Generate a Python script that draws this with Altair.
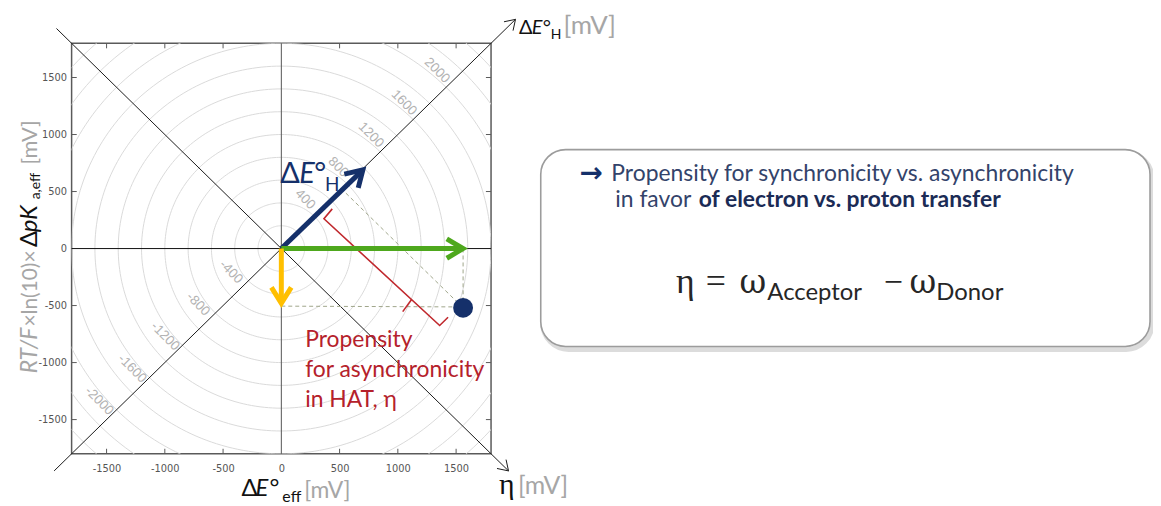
import altair as alt
import pandas as pd
import numpy as np

# ---------------- data ----------------
axis_ticks = [-1500, -1000, -500, 0, 500, 1000, 1500]
ring_radii = [200, 400, 600, 800, 1000, 1200, 1400, 1600, 1800, 2000, 2200, 2400, 2600]
ring_labels = [400, 800, 1200, 1600, 2000]
dE_H_tip = [700, 690]          # navy arrow  (ΔE°_H)
dE_eff_tip = [1560, 0]         # green arrow (ΔE°_eff)
dpKa_tip = [0, -480]           # yellow arrow (ΔpKa)
state_x = [1560]
state_y = [-520]
bracket_x = [437, 366, 1359, 1431]
bracket_y = [348, 261, -675, -603]
cusp_x = [1118, 1042]
cusp_y = [-447, -553]

# ---------------- styling ----------------
SANS = "Lato, Open Sans, sans-serif"
SERIF = "Liberation Serif, DejaVu Serif, serif"
NARROW = "Liberation Sans Narrow, Arial Narrow, DejaVu Sans Condensed, sans-serif"
NAVY = "#15306a"
GREEN = "#4ea81d"
YELLOW = "#ffbf00"
RED = "#c0282d"
REDTXT = "#b5212b"
GRAYTXT = "#a6a6a6"
OX, OY = 72, 42
W, H = 422, 413
D = 1800

SX = alt.Scale(domain=[-D, D], nice=False, zero=False)
SY = alt.Scale(domain=[-D, D], nice=False, zero=False)
AX = alt.Axis(values=axis_ticks, ticks=False, domain=False, grid=False, labelExpr="'' + datum.value",
              labelFont=NARROW, labelFontSize=11, labelColor="#555555", labelPadding=9,
              labelOverlap=False, labelFlush=False)
AY = alt.Axis(values=axis_ticks, ticks=False, domain=False, grid=False, labelExpr="'' + datum.value",
              labelFont=NARROW, labelFontSize=11, labelColor="#555555", labelPadding=5,
              labelOverlap=False, labelFlush=False)


def X(f="x"):
    return alt.X(f, type="quantitative", scale=SX, axis=AX, title=None)


def Y(f="y"):
    return alt.Y(f, type="quantitative", scale=SY, axis=AY, title=None)


# ---------------- grid circles ----------------
th = np.linspace(0, 2 * np.pi, 241)
circ = pd.DataFrame([
    {"x": r * np.cos(t), "y": r * np.sin(t), "r": r, "o": i}
    for r in ring_radii for i, t in enumerate(th)
])
circles = alt.Chart(circ).mark_line(clip=True, color="#dadada", strokeWidth=1).encode(
    x=X(), y=Y(), detail="r:N", order="o:Q")

# ring labels along the diagonal
s2 = np.sqrt(2)
lab_rows = []
for v in ring_labels:
    p = (v + 50) / s2
    lab_rows.append({"x": p - 160 / s2, "y": p + 160 / s2, "t": str(v)})
    lab_rows.append({"x": -p - 160 / s2, "y": -p + 160 / s2, "t": "-" + str(v)})
ring_text = alt.Chart(pd.DataFrame(lab_rows)).mark_text(
    angle=45, font="Liberation Sans, Arial, sans-serif", fontSize=13.5, color="#b3b3b3",
    align="center", baseline="middle"
).encode(x=X(), y=Y(), text="t:N")

# ---------------- frame ticks (inward) ----------------
tl = 44
trows = []
for v in axis_ticks:
    if v == 0:
        continue
    trows += [
        {"x": v, "x2": v, "y": -D, "y2": -D + tl},
        {"x": v, "x2": v, "y": D, "y2": D - tl},
        {"x": -D, "x2": -D + tl, "y": v, "y2": v},
        {"x": D, "x2": D - tl, "y": v, "y2": v},
    ]
ticks_layer = alt.Chart(pd.DataFrame(trows)).mark_rule(color="#5a5a5a", strokeWidth=1).encode(
    x=X(), x2="x2:Q", y=Y(), y2="y2:Q")

# ---------------- axes through origin and diagonals ----------------
axes_df = pd.DataFrame([
    {"x": -D, "x2": D, "y": 0, "y2": 0, "c": "#111111"},
    {"x": 0, "x2": 0, "y": -D, "y2": D, "c": "#555555"},
    {"x": -1950, "x2": 2010, "y": -1950, "y2": 2010, "c": "#1a1a1a"},
    {"x": -1930, "x2": 1950, "y": 1930, "y2": -1950, "c": "#1a1a1a"},
])
axes_layer = alt.Chart(axes_df).mark_rule(strokeWidth=1, clip=False).encode(
    x=X(), x2="x2:Q", y=Y(), y2="y2:Q", color=alt.Color("c:N", scale=None))


def head(tip, direction, L, Wd):
    u = np.array(direction, float)
    u = u / np.linalg.norm(u)
    p = np.array([-u[1], u[0]])
    tip = np.array(tip, float)
    a = tip - L * u + Wd * p
    b = tip - L * u - Wd * p
    return [a, tip, b]


hrows = []
for g, (tip, d) in enumerate([((2010, 2010), (1, 1)), ((1950, -1950), (1, -1))]):
    for o, pt in enumerate(head(tip, d, 85, 55)):
        hrows.append({"x": pt[0], "y": pt[1], "g": g, "o": o})
diag_heads = alt.Chart(pd.DataFrame(hrows)).mark_line(color="#1a1a1a", strokeWidth=1, clip=False).encode(
    x=X(), y=Y(), detail="g:N", order="o:Q")

# ---------------- dashed construction lines ----------------
sx, sy = state_x[0], state_y[0]
proj = (sx + sy) / 2
dash_df = pd.DataFrame([
    {"x": sx, "x2": sx, "y": 0, "y2": sy},
    {"x": 0, "x2": sx, "y": -505, "y2": sy + 8},
    {"x": sx, "x2": proj, "y": sy, "y2": proj},
])
dashes = alt.Chart(dash_df).mark_rule(color="#9fa58a", strokeWidth=1, strokeDash=[4, 3]).encode(
    x=X(), x2="x2:Q", y=Y(), y2="y2:Q")

# ---------------- red bracket ----------------
br = pd.DataFrame({"x": bracket_x + cusp_x, "y": bracket_y + cusp_y,
                   "g": [0, 0, 0, 0, 1, 1], "o": [0, 1, 2, 3, 0, 1]})
bracket = alt.Chart(br).mark_line(color=RED, strokeWidth=1.6, strokeJoin="miter").encode(
    x=X(), y=Y(), detail="g:N", order="o:Q")

# ---------------- vector arrows ----------------
arows = []
gid = 0
for tip, col in [(dE_H_tip, NAVY), (dE_eff_tip, GREEN), (dpKa_tip, YELLOW)]:
    arows.append({"x": 0, "y": 0, "g": gid, "o": 0, "c": col})
    arows.append({"x": tip[0], "y": tip[1], "g": gid, "o": 1, "c": col})
    gid += 1
    for o, pt in enumerate(head(tip, tip, 140, 85)):
        arows.append({"x": pt[0], "y": pt[1], "g": gid, "o": o, "c": col})
    gid += 1
arrows = alt.Chart(pd.DataFrame(arows)).mark_line(strokeWidth=5, strokeCap="butt", strokeJoin="miter").encode(
    x=X(), y=Y(), detail="g:N", order="o:Q", color=alt.Color("c:N", scale=None))

dot = alt.Chart(pd.DataFrame({"x": state_x, "y": state_y})).mark_circle(
    size=400, color=NAVY, opacity=1).encode(x=X(), y=Y())

# ---------------- text helpers ----------------
ANCH = pd.DataFrame({"a": [0]})


def T(text, px, py, size, color, font=SANS, style="normal", weight="normal",
      align="left", baseline="alphabetic", angle=0, lineHeight=None):
    kw = dict(text=text, fontSize=size, font=font, fontStyle=style, fontWeight=weight,
              color=color, align=align, baseline=baseline, angle=angle)
    if lineHeight:
        kw["lineHeight"] = lineHeight
    return alt.Chart(ANCH).mark_text(**kw).encode(x=alt.value(px - OX), y=alt.value(py - OY))


texts = [
    # ΔE°_H label at arrow
    T("Δ", 282, 183, 29, NAVY),
    T("E", 301, 183, 29, NAVY, style="italic"),
    T("°", 316, 183, 29, NAVY),
    T("H", 327, 191, 19, NAVY),
    # top-right axis label
    T("Δ", 522, 33, 20, "#111111"),
    T("E", 535, 33, 20, "#111111", style="italic"),
    T("°", 546, 33, 20, "#111111"),
    T("H", 554, 38, 14, "#111111"),
    T("[mV]", 567, 33, 26, GRAYTXT),
    # x title
    T("Δ", 243, 497, 24, "#111111"),
    T("E", 257, 497, 24, "#111111", style="italic"),
    T("°", 271, 497, 24, "#111111"),
    T("eff", 284, 503, 16, "#111111"),
    T("[mV]", 306, 499, 23, GRAYTXT),
    # eta axis label
    T("η", 502, 495, 30, "#111111", font=SERIF),
    T("[mV]", 521, 495, 25, GRAYTXT),
    # y title (rotated)
    T("RT/F", 37, 374, 23, GRAYTXT, style="italic", angle=270),
    T("×ln(10)×", 37, 327, 21, GRAYTXT, angle=270),
    T("Δ", 37, 247, 24, "#111111", angle=270),
    T("pK", 37, 232, 24, "#111111", style="italic", angle=270),
    T("a,eff", 40, 199, 14, "#111111", angle=270),
    T("[mV]", 37, 164, 22, GRAYTXT, angle=270),
    # red annotation
    T(["Propensity", "for asynchronicity", "in HAT, η"], 307, 348, 23, REDTXT, lineHeight=30),
]

# ---------------- right info box ----------------
shadow = alt.Chart(ANCH).mark_rect(cornerRadius=26, fillOpacity=0, stroke="#d4d4d4", strokeWidth=5,
                                   opacity=0.8).encode(
    x=alt.value(546 - OX), x2=alt.value(1159 - OX), y=alt.value(152 - OY), y2=alt.value(350 - OY))
box = alt.Chart(ANCH).mark_rect(cornerRadius=25, fill="white", stroke="#9c9c9c", strokeWidth=1.6).encode(
    x=alt.value(544 - OX), x2=alt.value(1157 - OX), y=alt.value(149 - OY), y2=alt.value(347 - OY))

box_text = [
    T("→", 583, 182, 28, NAVY, font="DejaVu Sans", weight="bold"),
    T("Propensity for synchronicity vs. asynchronicity", 615, 181, 23, "#33436a"),
    T("in favor", 619, 207, 23, "#33436a"),
    T("of electron vs. proton transfer", 703, 207, 23, "#1b2b55", weight="bold"),
    T("η", 680, 293, 36, "#262626", font=SERIF),
    T("=", 710, 293, 36, "#262626", font=SERIF),
    T("ω", 744, 293, 33, "#262626", font="DejaVu Serif, serif"),
    T("Acceptor", 772, 300, 24, "#262626"),
    T("−", 889, 293, 34, "#262626", font=SERIF),
    T("ω", 915, 293, 33, "#262626", font="DejaVu Serif, serif"),
    T("Donor", 942, 300, 24, "#262626"),
]

chart = alt.layer(
    circles, ring_text, ticks_layer, axes_layer, diag_heads, dashes, bracket, arrows, dot,
    *texts, shadow, box, *box_text
).properties(
    width=W, height=H,
    autosize=alt.AutoSizeParams(type="none"),
    padding={"left": OX - 8, "top": OY - 8, "right": 1152 - (OX - 8) - W, "bottom": 497 - (OY - 8) - H},
    background="white",
).configure_view(stroke="#5a5a5a", strokeWidth=1.5)

chart.save("out.html", embed_options={"renderer": "svg", "actions": False})
